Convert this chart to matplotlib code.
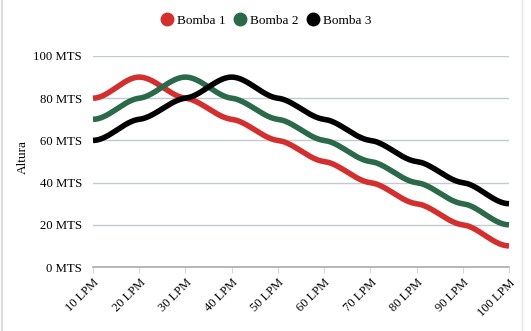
import numpy as np
import matplotlib.pyplot as plt
from matplotlib.lines import Line2D

plt.rcParams['font.family'] = ['Liberation Serif', 'DejaVu Serif']

categories = ['10 LPM', '20 LPM', '30 LPM', '40 LPM', '50 LPM',
              '60 LPM', '70 LPM', '80 LPM', '90 LPM', '100 LPM']
bomba1 = [80, 90, 80, 70, 60, 50, 40, 30, 20, 10]
bomba2 = [70, 80, 90, 80, 70, 60, 50, 40, 30, 20]
bomba3 = [60, 70, 80, 90, 80, 70, 60, 50, 40, 30]
series_names = ['Bomba 1', 'Bomba 2', 'Bomba 3']
colors = ['#d32f2f', '#2b6a49', '#000000']
y_ticks = [0, 20, 40, 60, 80, 100]


def smooth(values, k=0.25, n=40):
    # cubic hermite with reduced tangents -> wavy look
    y = np.asarray(values, dtype=float)
    x = np.arange(len(y))
    m = np.zeros_like(y)
    m[1:-1] = k * (y[2:] - y[:-2]) / 2
    xs, ys = [], []
    for i in range(len(y) - 1):
        t = np.linspace(0, 1, n, endpoint=(i == len(y) - 2))
        h00 = 2 * t**3 - 3 * t**2 + 1
        h10 = t**3 - 2 * t**2 + t
        h01 = -2 * t**3 + 3 * t**2
        h11 = t**3 - t**2
        xs.append(x[i] + t)
        ys.append(h00 * y[i] + h10 * m[i] + h01 * y[i + 1] + h11 * m[i + 1])
    return np.concatenate(xs), np.concatenate(ys)


fig = plt.figure(figsize=(5.31, 3.31), dpi=100)
ax = fig.add_axes([93 / 531, 1 - 267 / 331, 416 / 531, 211 / 331])

for vals, name, c in zip([bomba1, bomba2, bomba3], series_names, colors):
    sx, sy = smooth(vals)
    ax.plot(sx, sy, color=c, lw=4.0, solid_capstyle='butt', clip_on=False, zorder=3)

ax.set_xlim(0, len(categories) - 1)
ax.set_ylim(0, 100)
ax.set_yticks(y_ticks)
ax.set_yticklabels([f'{v} MTS' for v in y_ticks], fontsize=9.2)
ax.set_xticks(range(len(categories)))
ax.set_xticklabels(categories, fontsize=9, rotation=45, ha='right',
                   rotation_mode='anchor')
ax.tick_params(axis='y', length=0, pad=8)
ax.tick_params(axis='x', length=4, color='#d5d9de', pad=3)
ax.grid(axis='y', color='#c2cad2', lw=1)
ax.set_axisbelow(True)
for s in ['top', 'right', 'left']:
    ax.spines[s].set_visible(False)
ax.spines['bottom'].set_color('#a8adb2')
ax.spines['bottom'].set_linewidth(1.2)
ax.set_ylabel('Altura', fontsize=9.5)
ax.yaxis.set_label_coords(-0.155, 0.52)

handles = [Line2D([], [], marker='o', ls='', color=c, markersize=9) for c in colors]
fig.legend(handles, series_names, loc='center', bbox_to_anchor=(0.5, 1 - 21 / 331),
           ncol=3, frameon=False, fontsize=9.5, handletextpad=0.25,
           columnspacing=0.6, handlelength=1.0)

# light card borders
fig.add_artist(Line2D([1.5 / 531, 1.5 / 531], [0, 1], color='#dcdcdc', lw=1.5))
fig.add_artist(Line2D([522 / 531, 522 / 531], [0, 1], color='#e6e6e6', lw=1.0))

fig.savefig('out.png', dpi=100)
